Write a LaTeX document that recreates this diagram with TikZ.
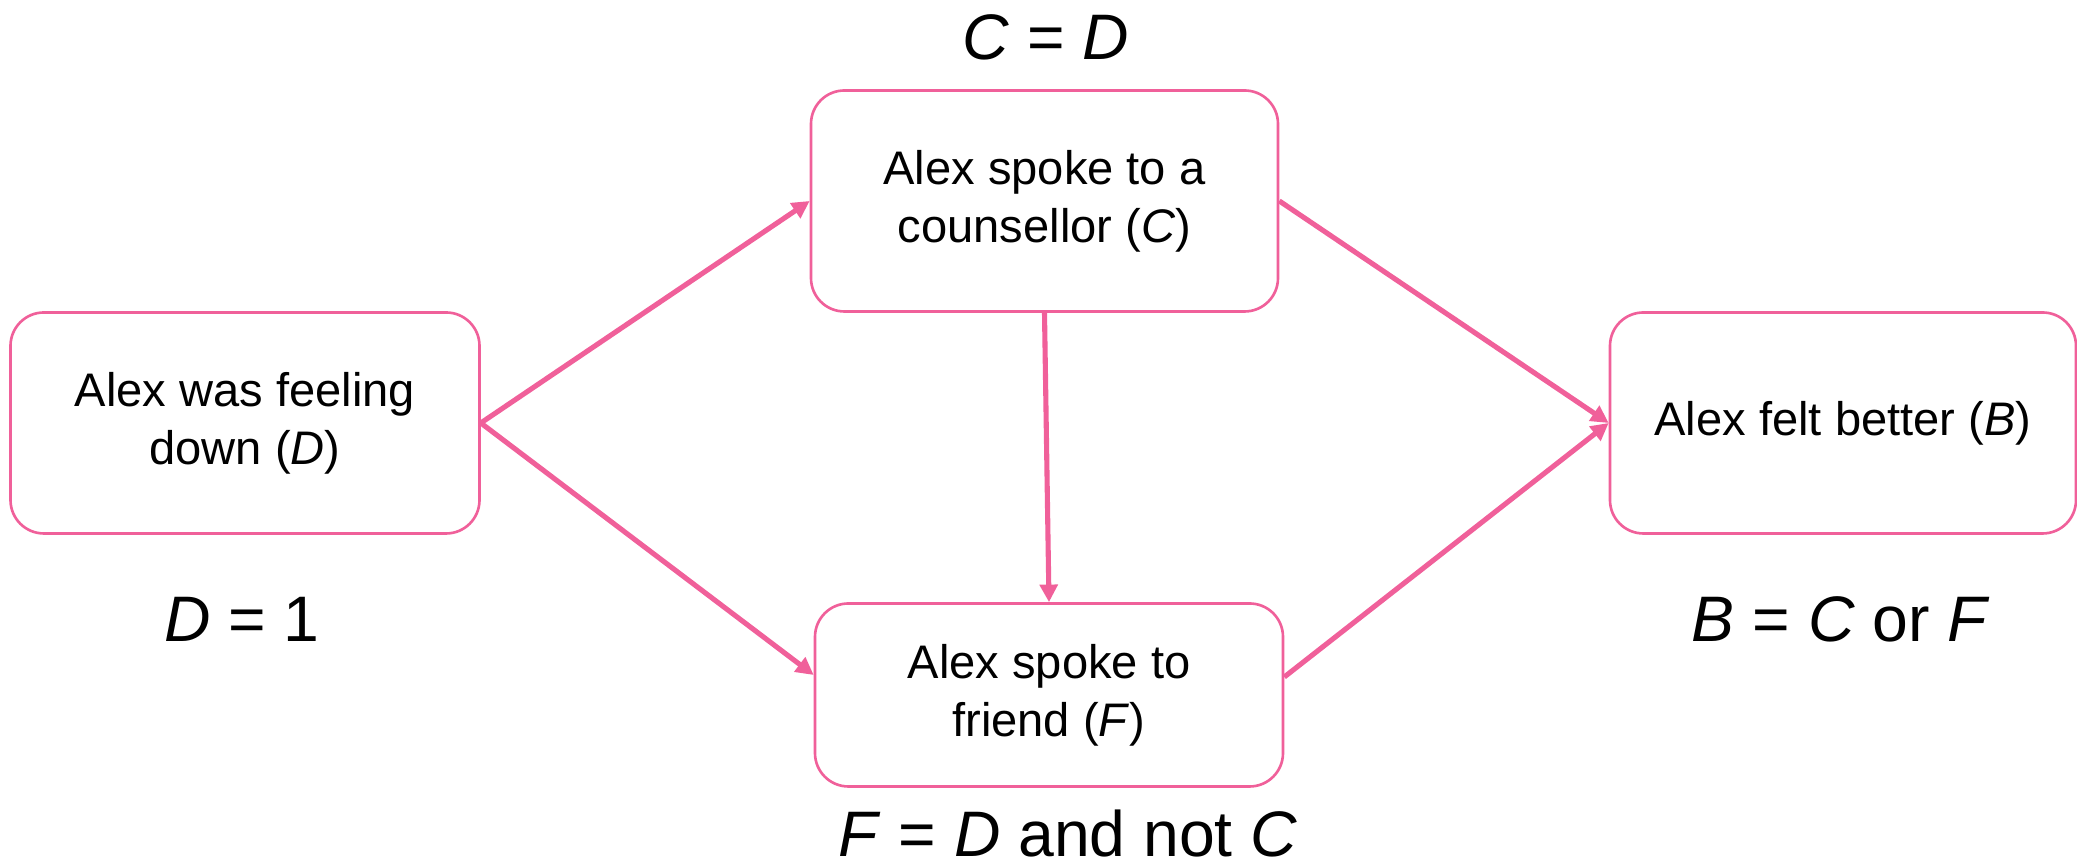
\documentclass[tikz,border=0pt]{standalone}
\usepackage{fontspec}
\setmainfont{Liberation Sans}
\usetikzlibrary{arrows.meta,positioning,calc}
\definecolor{PK}{HTML}{F0609A}

\begin{document}
\begin{tikzpicture}[
    box/.style={draw=PK, line width=0.75pt, fill=white,
      rounded corners=9.5pt, minimum width=#1, minimum height=2.21cm,
      align=center, font=\fontsize{13.4}{16.5}\selectfont},
    lbl/.style={font=\fontsize{18.3}{22}\selectfont},
    link/.style={draw=PK, line width=1.45pt,
      -{Triangle[length=5pt,width=5pt]}}
  ]
  \useasboundingbox (0,0) rectangle (20.77,8.67);

  % the four events
  \node[box=4.69cm] (D) at (2.45,4.44)
    {Alex was feeling\\ down (\textit{D})};
  \node[box=4.67cm] (C) at (10.445,6.66)
    {Alex spoke to a\\ counsellor (\textit{C})};
  \node[box=4.68cm, minimum height=1.83cm] (F) at (10.49,1.72)
    {Alex spoke to\\ friend (\textit{F})};
  \node[box=4.66cm] (B) at (18.43,4.44)
    {Alex felt better (\textit{B})};

  % structural equations
  \node[lbl] (eqD) at (2.42,2.48) {\textit{D} = 1};
  \node[lbl] (eqC) at (10.46,8.30) {\textit{C} = \textit{D}};
  \node[lbl, anchor=base] (eqF) at (10.68,0.10) {\textit{F} = \textit{D} and not \textit{C}};
  \node[lbl] (eqB) at (18.41,2.48) {\textit{B} = \textit{C} or \textit{F}};

  % causal links
  \draw[link] (D.east) -- (C.west);
  \draw[link] (D.east) -- ([yshift=2mm]F.west);
  \draw[link] (C.south) -- (F.north);
  \draw[link] (C.east) -- (B.west);
  \draw[link] ([yshift=1.8mm]F.east) -- (B.west);
\end{tikzpicture}
\end{document}
